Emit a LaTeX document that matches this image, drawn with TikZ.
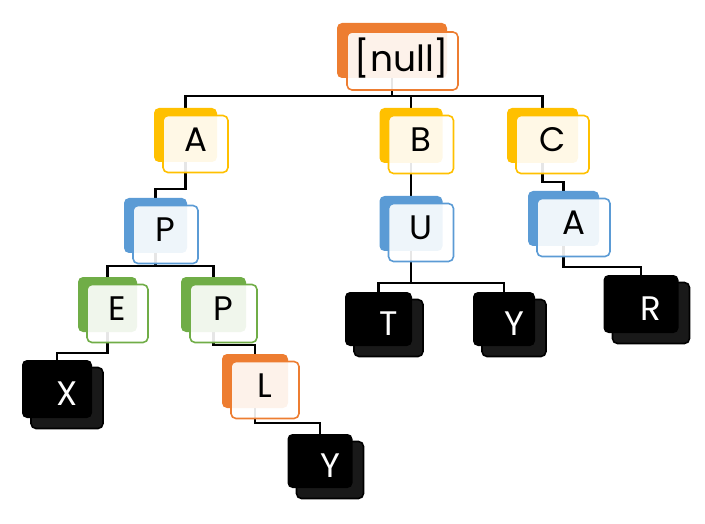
\documentclass[tikz,border=0pt]{standalone}
\usepackage{fontspec}
\setmainfont{Poppins}
\usetikzlibrary{backgrounds}
\definecolor{cOrange}{HTML}{ED7D31}
\definecolor{cYellow}{HTML}{FFC000}
\definecolor{cBlue}{HTML}{5B9BD5}
\definecolor{cGreen}{HTML}{70AD47}
\definecolor{cBlack}{HTML}{000000}
\tikzset{
  backbox/.style={rectangle, rounded corners=5pt, inner sep=0pt, draw=none},
  frontbox/.style={rectangle, rounded corners=5pt, inner sep=0pt, line width=1.6pt, fill opacity=0.9},
  lbl/.style={inner sep=0pt, font=\fontsize{34}{40}\selectfont},
  rootlbl/.style={inner sep=0pt, font=\fontsize{36}{42}\selectfont},
  link/.style={line width=2.8pt},
}
% name, colour, front fill, text colour, cx, cy, w, h, text
\newcommand{\tnode}[9]{%
  \node[backbox, fill=#2, minimum width={#7pt}, minimum height={#8pt}] (#1) at (#5,#6) {};
  \node[frontbox, draw=#2, fill=#3, minimum width={#7pt+2pt}, minimum height={#8pt+3pt}] (#1f) at (#5+10,#6+9) {};
  \node[lbl, text=#4] (#1t) at (#5+10,#6+4.5) {#9};
}
\newcommand{\tedge}[3]{%
  \coordinate (bar-#1-#2) at (0,#3);
  \draw[link] (#1.center) -- (#1.center |- bar-#1-#2) -| (#2.center);
}
\begin{document}
\begin{tikzpicture}[x=1pt,y=-1pt]
\useasboundingbox (0,0) rectangle (705,524);
% root
\node[backbox, fill=cOrange, minimum width=110pt, minimum height=55pt] (root) at (392,50.5) {};
\node[frontbox, draw=cOrange, fill=white, minimum width=111pt, minimum height=58pt] (rootf) at (402.5,61) {};
\node[rootlbl] (roott) at (402,58) {[null]};
% level 1
\tnode{A}{cYellow}{white}{black}{185.5}{135}{63}{54}{A}
\tnode{B}{cYellow}{white}{black}{411}{135.5}{63}{55}{B}
\tnode{C}{cYellow}{white}{black}{542.5}{135.5}{71}{55}{C}
% level 2
\tnode{P}{cBlue}{white}{black}{155.5}{225.5}{63}{55}{P}
\tnode{U}{cBlue}{white}{black}{411}{223.5}{63}{55}{U}
\tnode{A2}{cBlue}{white}{black}{563.5}{218.5}{71}{55}{A}
% level 3
\tnode{E}{cGreen}{white}{black}{107.5}{304.5}{59}{55}{E}
\tnode{P2}{cGreen}{white}{black}{213.5}{304.5}{65}{55}{P}
\tnode{T}{cBlack}{cBlack}{white}{378.5}{319}{67}{54}{T}
\tnode{Y}{cBlack}{cBlack}{white}{504}{319}{62}{54}{Y}
\tnode{R}{cBlack}{cBlack}{white}{641}{304}{75}{58}{R}
% level 4
\tnode{X}{cBlack}{cBlack}{white}{57}{389}{70}{58}{X}
\tnode{L}{cOrange}{white}{black}{255}{381}{66}{54}{L}
% level 5
\tnode{Y2}{cBlack}{cBlack}{white}{320}{461}{65}{54}{Y}
\begin{scope}[on background layer]
\tedge{root}{A}{96}
\tedge{root}{B}{96}
\tedge{root}{C}{96}
\tedge{A}{P}{189}
\tedge{B}{U}{185}
\tedge{C}{A2}{182}
\tedge{P}{E}{266}
\tedge{P}{P2}{266}
\tedge{U}{T}{283}
\tedge{U}{Y}{283}
\tedge{A2}{R}{267}
\tedge{E}{X}{353}
\tedge{P2}{L}{345}
\tedge{L}{Y2}{423}
\end{scope}
\end{tikzpicture}
\end{document}
